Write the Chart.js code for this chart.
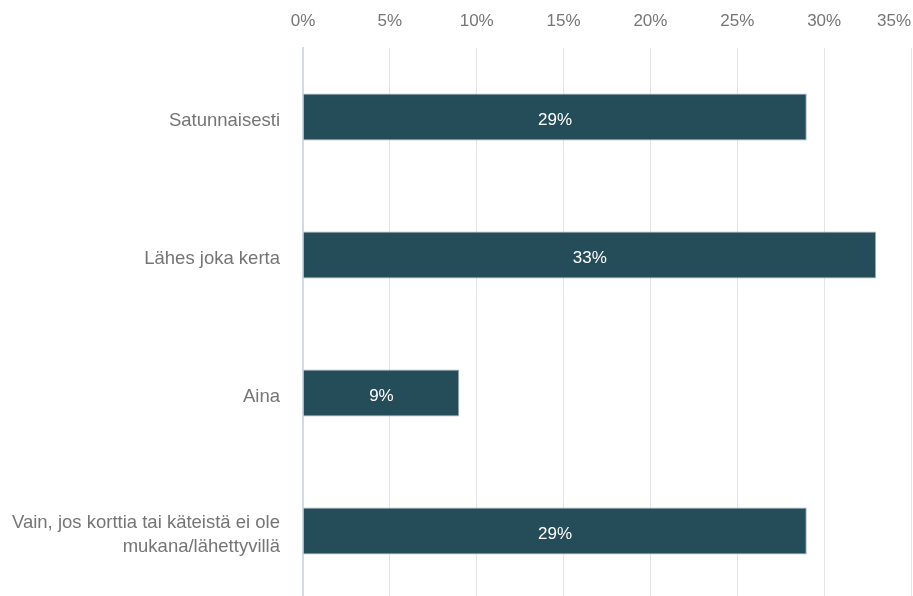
<!DOCTYPE html>
<html>
<head>
<meta charset="utf-8">
<script src="https://cdn.jsdelivr.net/npm/chart.js@4/dist/chart.umd.min.js"></script>
<style>
  html, body { margin: 0; padding: 0; background: #fff; overflow: hidden; }
  #wrap { width: 913px; height: 596px; overflow: hidden; }
</style>
</head>
<body>
<div id="wrap"><canvas id="answer-chart" width="913" height="600"></canvas></div>
<script>
//
// Data
//
const answerLabels = [
    'Satunnaisesti',
    'Lähes joka kerta',
    'Aina',
    ['Vain, jos korttia tai käteistä ei ole', 'mukana/lähettyvillä']
];
const answerValues = [29, 33, 9, 29];
const tickValues = [0, 5, 10, 15, 20, 25, 30, 35];

const fontFamily = 'Arial, "Liberation Sans", sans-serif';
const greyText = '#757575';

// writes the percentage in the middle of each bar
const barLabelPlugin = {
    id: 'barLabels',
    afterDatasetsDraw(chart) {
        const ctx = chart.ctx;
        const meta = chart.getDatasetMeta(0);
        ctx.save();
        ctx.fillStyle = '#ffffff';
        ctx.font = '17px ' + fontFamily;
        ctx.textAlign = 'center';
        ctx.textBaseline = 'middle';
        meta.data.forEach((bar, i) => {
            const x = (bar.x + bar.base) / 2;
            ctx.fillText(answerValues[i] + '%', x, bar.y + 3);
        });
        ctx.restore();
    }
};

// last x tick label is pushed inside the chart (right aligned),
// category labels sit a bit lower than the bar centre
const tickTweakPlugin = {
    id: 'tickTweak',
    beforeDraw(chart) {
        const xScale = chart.scales.x;
        const xItems = xScale.getLabelItems();
        const last = xItems[xItems.length - 1];
        if (last && !last._moved) {
            last.options.textAlign = 'right';
            last.options.translation[0] = xScale.right;
            last._moved = true;
        }
        const yItems = chart.scales.y.getLabelItems();
        yItems.forEach(item => {
            if (!item._moved) {
                item.options.translation[1] += 4;
                item._moved = true;
            }
        });
    }
};

const answerCanvas = document.getElementById('answer-chart');

let answerData = {
    labels: answerLabels,
    datasets: [{
        data: answerValues,
        backgroundColor: '#244c59',
        borderColor: '#a7b6bd',
        borderWidth: 1,
        categoryPercentage: 1,
        barPercentage: 0.34
    }]
};

let answerOptions = {
    indexAxis: 'y',
    responsive: false,
    maintainAspectRatio: false,
    animation: false,
    layout: {
        padding: { left: 0, right: 2, top: 0, bottom: 0 }
    },
    scales: {
        x: {
            position: 'top',
            min: 0,
            max: 35,
            afterBuildTicks(scale) {
                scale.ticks = tickValues.map(v => ({ value: v }));
            },
            afterFit(scale) {
                scale.paddingRight = 0;
                scale.paddingLeft = 0;
                scale.height = 48;
            },
            ticks: {
                color: greyText,
                padding: 16,
                font: { size: 17, family: fontFamily },
                callback: (v) => v + '%'
            },
            grid: {
                color: '#e4e4e4',
                lineWidth: 1,
                drawTicks: false
            },
            border: { display: false }
        },
        y: {
            afterFit(scale) {
                scale.width = 303;
                scale.paddingTop = 0;
                scale.paddingBottom = 0;
            },
            ticks: {
                color: greyText,
                padding: 23,
                font: { size: 18.5, family: fontFamily, lineHeight: 1.3 }
            },
            grid: { display: false, drawTicks: false },
            border: { display: true, color: '#d2d9e8', width: 2 }
        }
    },
    plugins: {
        legend: { display: false },
        tooltip: { enabled: false }
    }
};

let answerChart = new Chart(answerCanvas, {
    type: 'bar',
    data: answerData,
    options: answerOptions,
    plugins: [barLabelPlugin, tickTweakPlugin]
});
</script>
</body>
</html>
